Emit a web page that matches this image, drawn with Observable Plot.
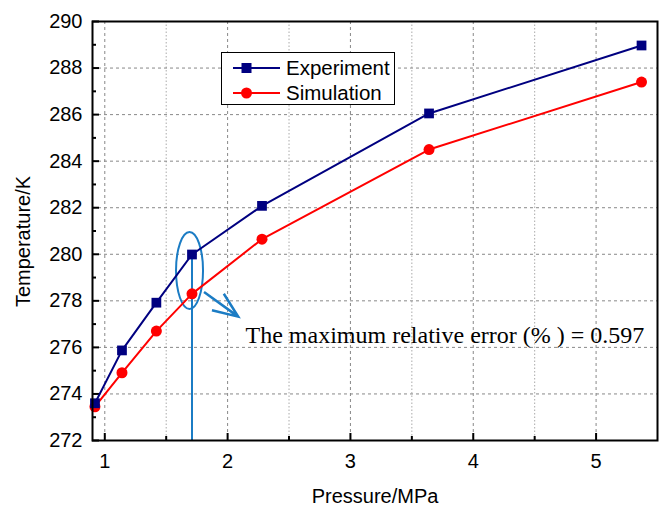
<!DOCTYPE html>
<html>
<head>
<meta charset="utf-8">
<script src="https://cdn.jsdelivr.net/npm/d3@7"></script>
<script src="https://cdn.jsdelivr.net/npm/@observablehq/plot@0.6"></script>
<style>
  html, body { margin: 0; padding: 0; background: #fff; }
  #wrap { position: relative; width: 665px; height: 506px; }
  #legend { position: absolute; left: 221px; top: 52px; width: 172px; height: 51px;
    border: 1.5px solid #000; background: #fff; font-family: "Liberation Sans", Arial, sans-serif; font-size: 20.5px; }
  #legend .row { position: absolute; left: 0; height: 22px; display: flex; align-items: center; }
  #legend svg { display: block; }
</style>
</head>
<body>
<div id="wrap"></div>
<script>
const pressure = [0.92, 1.14, 1.42, 1.71, 2.28, 3.64, 5.37];
const experiment = [273.6, 275.87, 277.92, 279.99, 282.08, 286.05, 288.97];
const simulation = [273.45, 274.91, 276.70, 278.30, 280.65, 284.50, 287.40];
const seriesNames = ["Experiment", "Simulation"];
const xMajor = [1, 2, 3, 4, 5];
const xMinor = [1.5, 2.5, 3.5, 4.5];
const yMajor = [272, 274, 276, 278, 280, 282, 284, 286, 288, 290];
const yMinor = [273, 275, 277, 279, 281, 283, 285, 287, 289];
const annotationText = "The maximum relative error (% ) = 0.597";
const xLabel = "Pressure/MPa";
const yLabel = "Temperature/K";

const expData = pressure.map((p, i) => ({p, t: experiment[i]}));
const simData = pressure.map((p, i) => ({p, t: simulation[i]}));

const navy = "#000080", red = "#ff0000", blue = "#1b7cc4";
const font = "'Liberation Sans', Arial, sans-serif";
const SVGNS = "http://www.w3.org/2000/svg";

const ellipseMark = (index, scales) => {
  const cx = scales.x(1.694), cy = scales.y(279.28);
  const e = document.createElementNS(SVGNS, "ellipse");
  e.setAttribute("cx", cx); e.setAttribute("cy", cy);
  e.setAttribute("rx", 13.5); e.setAttribute("ry", 38.5);
  e.setAttribute("fill", "none"); e.setAttribute("stroke", blue); e.setAttribute("stroke-width", 2);
  return e;
};

const arrowMark = (index, scales) => {
  const x1 = scales.x(1.812), y1 = scales.y(278.36);
  const x2 = scales.x(2.09), y2 = scales.y(277.3);
  const a = Math.atan2(y2 - y1, x2 - x1);
  const L = 27, h = 22 * Math.PI / 180;
  const w1x = x2 - L * Math.cos(a - h), w1y = y2 - L * Math.sin(a - h);
  const w2x = x2 - L * Math.cos(a + h), w2y = y2 - L * Math.sin(a + h);
  const p = document.createElementNS(SVGNS, "path");
  p.setAttribute("d", `M${x1},${y1}L${x2},${y2}M${w1x},${w1y}L${x2},${y2}L${w2x},${w2y}`);
  p.setAttribute("fill", "none"); p.setAttribute("stroke", blue); p.setAttribute("stroke-width", 2.5);
  p.setAttribute("stroke-linejoin", "miter");
  return p;
};

const chart = Plot.plot({
  width: 665, height: 506,
  marginLeft: 92, marginRight: 8, marginTop: 21, marginBottom: 66,
  style: {fontFamily: font, fontSize: "20px", color: "#000", background: "#fff"},
  x: {domain: [0.9, 5.5]},
  y: {domain: [272, 290]},
  marks: [
    Plot.gridX(xMajor, {stroke: "#888", strokeOpacity: 1, strokeDasharray: "3,3", strokeWidth: 1}),
    Plot.gridX(xMinor, {stroke: "#aaa", strokeOpacity: 1, strokeDasharray: "1.5,2", strokeWidth: 1}),
    Plot.gridY(yMajor.slice(1, -1), {stroke: "#888", strokeOpacity: 1, strokeDasharray: "3,3", strokeWidth: 1}),
    Plot.axisX(xMajor, {tickSize: 0, tickPadding: 13, fontSize: 20, tickFormat: d3.format("d"), label: xLabel, labelAnchor: "center", labelArrow: "none", labelOffset: 62}),
    Plot.axisX(xMajor, {tickSize: -7, text: null, strokeWidth: 2, label: null}),
    Plot.axisX(xMinor, {tickSize: -4, text: null, strokeWidth: 2, label: null}),
    Plot.axisY(yMajor, {tickSize: 0, tickPadding: 10, fontSize: 20, tickFormat: d3.format("d"), label: null}),
    Plot.axisY(yMajor, {tickSize: -7, text: null, strokeWidth: 2, label: null}),
    Plot.axisY(yMinor, {tickSize: -4, text: null, strokeWidth: 2, label: null}),
    Plot.text([yLabel], {frameAnchor: "left", text: d => d, rotate: -90, dx: -68.5, dy: 10.5, lineAnchor: "middle", textAnchor: "middle", fontSize: 20, fill: "#000"}),
    Plot.ruleX([pressure[3]], {y1: experiment[3], y2: 272, stroke: blue, strokeWidth: 2}),
    ellipseMark,
    arrowMark,
    Plot.line(simData, {x: "p", y: "t", stroke: red, strokeWidth: 2}),
    Plot.dot(simData, {x: "p", y: "t", r: 5.5, fill: red, stroke: null}),
    Plot.line(expData, {x: "p", y: "t", stroke: navy, strokeWidth: 2}),
    Plot.dot(expData, {x: "p", y: "t", r: 5.5, symbol: "square", fill: navy, stroke: null}),
    Plot.text([annotationText], {x: 2.146, y: 276.5, text: d => d, textAnchor: "start", fontFamily: "'Liberation Serif', 'Times New Roman', serif", fontSize: 24, fill: "#000"}),
    Plot.frame({stroke: "#000", strokeWidth: 2})
  ]
});

const wrap = document.getElementById("wrap");
wrap.appendChild(chart);

const legend = document.createElement("div");
legend.id = "legend";
const colors = [navy, red];
seriesNames.forEach((name, i) => {
  const row = document.createElement("div");
  row.className = "row";
  row.style.top = (4 + i * 25) + "px";
  const sym = i === 0
    ? `<rect x="19.5" y="6" width="10" height="10" fill="${navy}"/>`
    : `<circle cx="24.5" cy="11" r="5.5" fill="${red}"/>`;
  row.innerHTML = `<svg width="64" height="22"><line x1="11" x2="58" y1="11" y2="11" stroke="${colors[i]}" stroke-width="2"/>${sym}</svg><span>${name}</span>`;
  legend.appendChild(row);
});
wrap.appendChild(legend);
</script>
</body>
</html>
